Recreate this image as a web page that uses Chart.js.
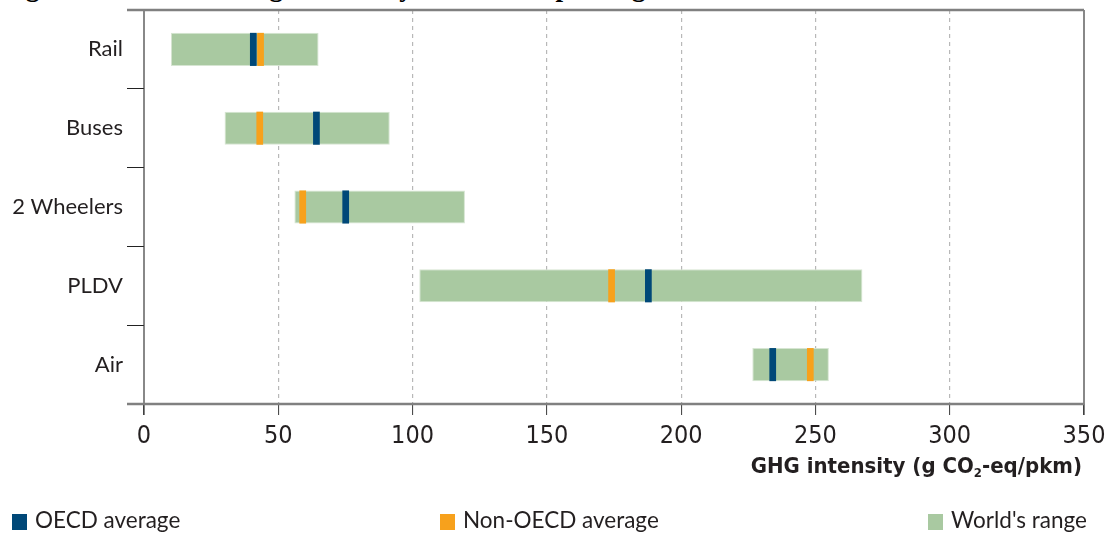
<!DOCTYPE html>
<html>
<head>
<meta charset="utf-8">
<script src="https://cdn.jsdelivr.net/npm/chart.js@4.4.1/dist/chart.umd.min.js"></script>
<style>
  html, body { margin: 0; padding: 0; background: #fff; }
  #wrap { position: relative; width: 1110px; height: 533px; overflow: hidden; }
  #chartBox { position: absolute; left: 0; top: 0; width: 1110px; height: 533px; }
  .fig-title { position: absolute; left: 2px; top: -26px; white-space: nowrap;
    font: bold 27px "Liberation Serif", serif; color: #000; line-height: 27px; }
  .axis-title { position: absolute; right: 28px; top: 453px; white-space: nowrap;
    font: bold 22px "Liberation Sans Narrow", "DejaVu Sans Condensed", sans-serif; color: #231f20; }
  .axis-title sub { font-size: 13px; vertical-align: -4px; line-height: 0; }
  .leg { position: absolute; top: 505px; white-space: nowrap;
    font: 22.5px Lato, "Open Sans", sans-serif; color: #231f20; line-height: 30px; }
  .leg i { display: inline-block; width: 15px; height: 16px; margin-right: 8px; vertical-align: -2px; }
</style>
</head>
<body>
<div id="wrap">
  <div class="fig-title">Figure 4.1 Greenhouse gas intensity of different passenger modes</div>
  <div id="chartBox"><canvas id="ghgChart"></canvas></div>
  <div class="axis-title">GHG intensity (g CO<sub>2</sub>-eq/pkm)</div>
  <div class="leg" style="left:12px"><i style="background:#004878"></i>OECD average</div>
  <div class="leg" style="left:440px"><i style="background:#f7a11c"></i>Non-OECD average</div>
  <div class="leg" style="left:928px"><i style="background:#a9c9a1"></i>World's range</div>
</div>
<script>
// valores (g CO2-eq/pkm)
const modes = ['Rail', 'Buses', '2 Wheelers', 'PLDV', 'Air'];
const rangeMin = [10, 30, 56, 102.5, 226.5];
const rangeMax = [65, 91.5, 119.5, 267.5, 255];
const oecdAvg = [40.7, 64.2, 75.1, 187.8, 234.1];
const nonOecdAvg = [43.4, 43.1, 59.1, 174.1, 248.1];
const xTicks = [0, 50, 100, 150, 200, 250, 300, 350];

const MARK = 1.25; // metade da largura do marcador, em unidades do eixo

const green = '#a9c9a1';
const navy = '#004878';
const orange = '#f7a11c';

// moldura: linha de cima e de baixo em cinza, borda direita e eixo esquerdo escuros
const framePlugin = {
    id: 'frame',
    afterDraw(chart) {
        const { ctx, chartArea } = chart;
        const { left, right, top, bottom } = chartArea;
        ctx.save();
        ctx.strokeStyle = '#3a3a3a';
        ctx.lineWidth = 1.2;
        ctx.beginPath();
        ctx.moveTo(left, top);
        ctx.lineTo(left, bottom + 11);
        ctx.moveTo(right, top);
        ctx.lineTo(right, bottom + 11);
        ctx.stroke();
        ctx.strokeStyle = '#808080';
        ctx.lineWidth = 2.5;
        ctx.beginPath();
        ctx.moveTo(left - 17, top);
        ctx.lineTo(right, top);
        ctx.moveTo(left - 17, bottom);
        ctx.lineTo(right, bottom);
        ctx.stroke();
        ctx.restore();
    }
};

const ctx = document.getElementById('ghgChart').getContext('2d');
const chart = new Chart(ctx, {
    type: 'bar',
    data: {
        labels: modes,
        datasets: [
            {
                label: 'OECD average',
                data: oecdAvg.map(v => [v - MARK, v + MARK]),
                backgroundColor: navy,
                borderWidth: 0,
                grouped: false,
                categoryPercentage: 0.42,
                barPercentage: 1
            },
            {
                label: 'Non-OECD average',
                data: nonOecdAvg.map(v => [v - MARK, v + MARK]),
                backgroundColor: orange,
                borderWidth: 0,
                grouped: false,
                categoryPercentage: 0.42,
                barPercentage: 1
            },
            {
                label: "World's range",
                data: rangeMin.map((v, i) => [v, rangeMax[i]]),
                backgroundColor: green,
                borderColor: '#d6e5d2',
                borderWidth: 1,
                borderSkipped: false,
                grouped: false,
                categoryPercentage: 0.42,
                barPercentage: 1
            }
        ]
    },
    options: {
        indexAxis: 'y',
        responsive: true,
        maintainAspectRatio: false,
        animation: false,
        layout: { padding: { top: 10, right: 26, left: 0, bottom: 0 } },
        plugins: {
            legend: { display: false },
            tooltip: { enabled: false }
        },
        scales: {
            x: {
                type: 'linear',
                min: 0,
                max: 350,
                afterBuildTicks: axis => { axis.ticks = xTicks.map(v => ({ value: v })); },
                afterFit: axis => {
                    axis.height = 129;
                    axis.paddingLeft = 0;
                    axis.paddingRight = 0;
                },
                grid: {
                    color: c => (c.tick && (c.tick.value === 0 || c.tick.value === 350)) ? 'rgba(0,0,0,0)' : '#b8b8b8',
                    lineWidth: 1.2,
                    tickColor: '#3a3a3a',
                    tickLength: 11,
                    tickBorderDash: [],
                    tickWidth: 1
                },
                border: { display: false, dash: [4, 4] },
                ticks: {
                    padding: 6,
                    color: '#231f20',
                    font: { family: '"Liberation Sans Narrow", "DejaVu Sans Condensed", sans-serif', size: 25 }
                }
            },
            y: {
                afterFit: axis => {
                    axis.width = 144;
                    axis.paddingTop = 0;
                    axis.paddingBottom = 0;
                },
                grid: {
                    offset: true,
                    drawOnChartArea: false,
                    tickColor: '#222',
                    tickLength: 17,
                    tickWidth: 1
                },
                border: { display: false },
                ticks: {
                    padding: 4,
                    color: '#231f20',
                    font: { family: 'Lato, "Open Sans", sans-serif', size: 22 }
                }
            }
        }
    },
    plugins: [framePlugin]
});
</script>
</body>
</html>
